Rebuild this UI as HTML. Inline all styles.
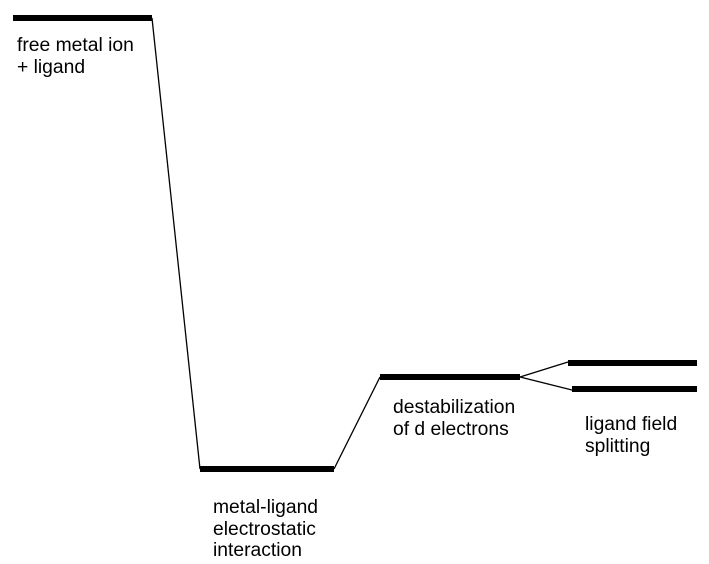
<!DOCTYPE html>
<html><head><style>
html,body{margin:0;padding:0;background:#fff;width:709px;height:564px;overflow:hidden}
svg{display:block}
text{font-family:"Liberation Sans",sans-serif;font-size:19.3px;fill:#000}
</style></head><body>
<svg width="709" height="564" viewBox="0 0 709 564">
<g stroke="#000" stroke-width="6" fill="none">
<line x1="13" y1="18" x2="152" y2="18"/>
<line x1="200" y1="469" x2="334" y2="469"/>
<line x1="380" y1="377" x2="520" y2="377"/>
<line x1="568" y1="363" x2="697" y2="363"/>
<line x1="572" y1="389" x2="697" y2="389"/>
</g>
<g stroke="#000" stroke-width="1.3" fill="none">
<line x1="152" y1="18" x2="200" y2="469"/>
<line x1="334" y1="469" x2="380" y2="377"/>
<line x1="520" y1="377" x2="568" y2="362"/>
<line x1="520" y1="377" x2="572" y2="390"/>
</g>
<text x="17" y="51">free metal ion</text>
<text x="17" y="73">+ ligand</text>
<text x="213" y="513">metal-ligand</text>
<text x="213" y="535">electrostatic</text>
<text x="213" y="556">interaction</text>
<text x="393" y="413">destabilization</text>
<text x="393" y="435">of d electrons</text>
<text x="585" y="430">ligand field</text>
<text x="585" y="452">splitting</text>
</svg>
</body></html>
